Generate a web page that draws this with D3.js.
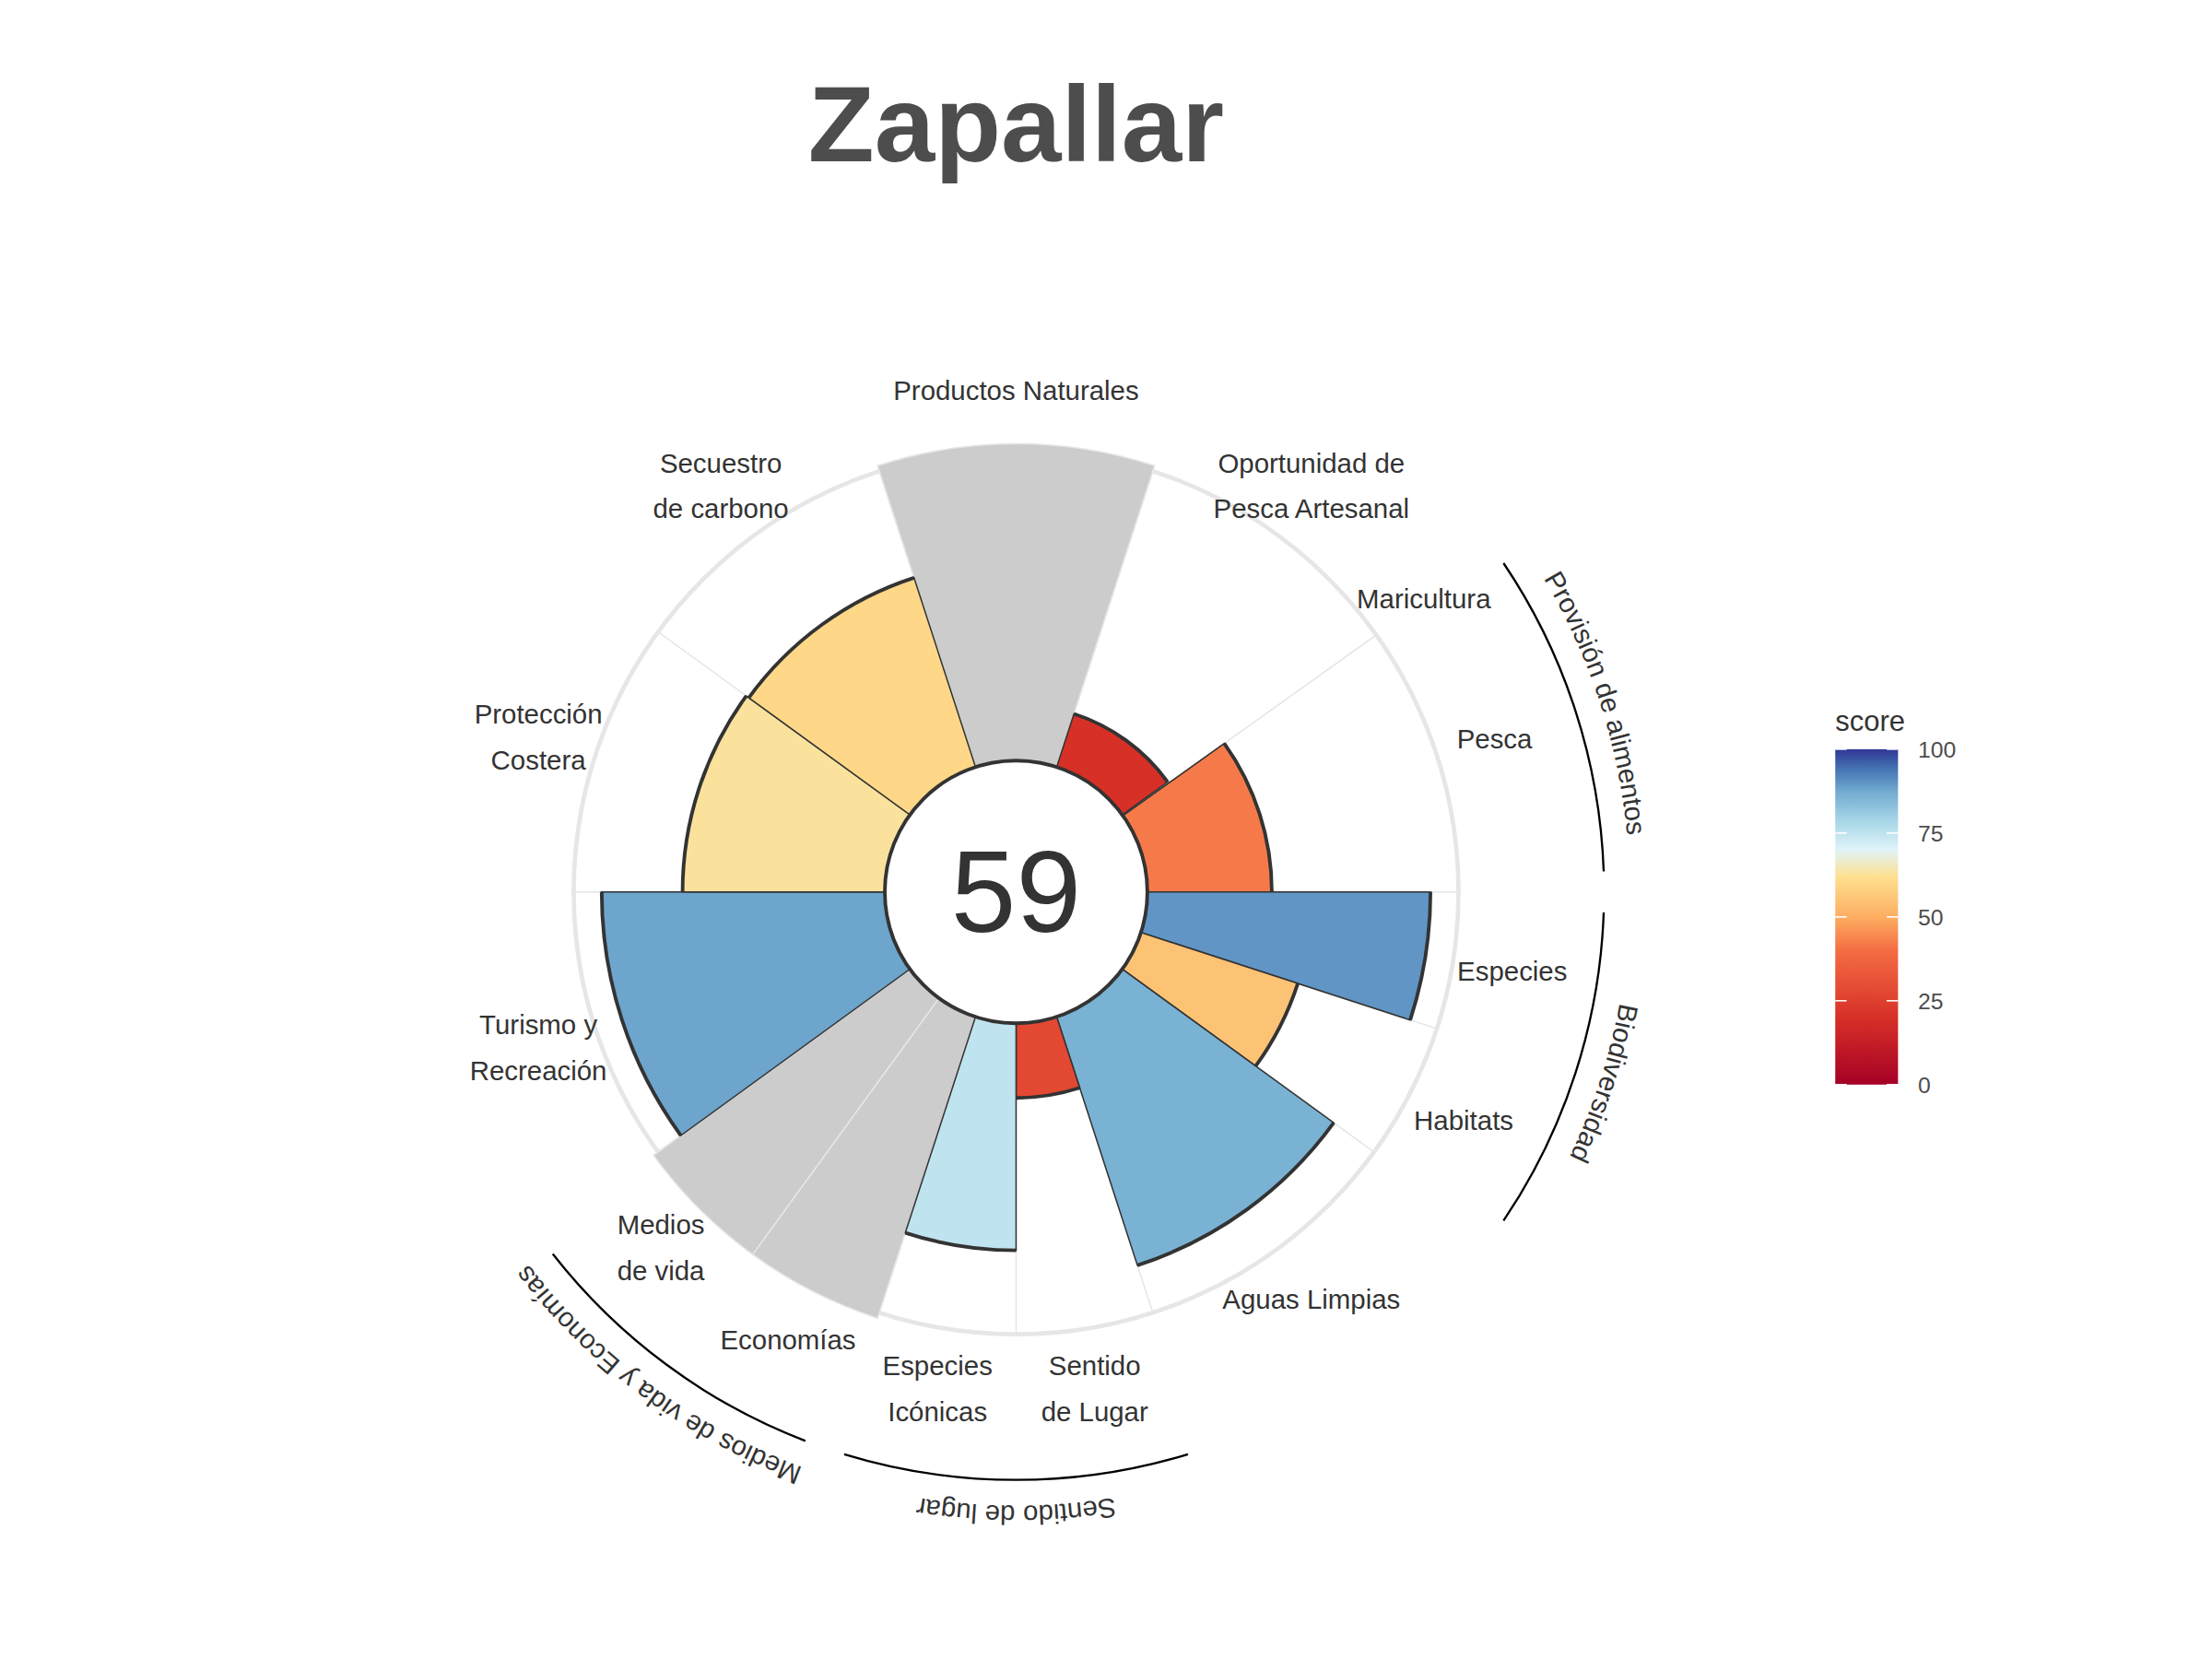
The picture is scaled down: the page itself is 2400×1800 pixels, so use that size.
<!DOCTYPE html>
<html><head><meta charset="utf-8">
<script src="https://cdn.jsdelivr.net/npm/d3@7"></script>
<style>body{margin:0;background:#fff}</style>
</head><body>
<svg id="chart" width="2400" height="1800" viewBox="0 0 1550 1162.5"></svg>
<script>
// goals, clockwise starting at -18 deg
var goals = ["Productos Naturales","Oportunidad de\nPesca Artesanal","Maricultura","Pesca","Especies","Habitats","Aguas Limpias","Sentido\nde Lugar","Especies\nIcónicas","Economías","Medios\nde vida","Turismo y\nRecreación","Protección\nCostera","Secuestro\nde carbono"];
var widths = [36, 36, 0.5, 35.5, 18, 18, 36, 18, 18, 18, 18, 36, 36, 36];
var scores = [null, 18, null, 40, 91, 53, 84, 24, 73, null, null, 91, 65, 64];
var colorScores = [null, 20, null, 42, 90, 55, 86, 28, 75, null, null, 88, 63, 60];
var naFilled = [true, false, false, false, false, false, false, false, false, true, true, false, false, false];
var groups = ["Provisión de alimentos","Biodiversidad","Sentido de lugar","Medios de vida y Economías"];
var groupStart = [56, 92, 163, 201];
var groupEnd = [88, 124, 197, 232];
var overall = 59;
var legendTicks = [0, 25, 50, 75, 100];
var colorStops = [0, 20, 40, 50, 62, 70, 78, 87, 94, 100];
var colorValues = ["#a50026","#d73027","#f46d43","#fdae61","#fee090","#e0f3f8","#abd9e9","#74add1","#4575b4","#313695"];

var svg = d3.select("#chart");
var cx = 712, cy = 625, r0 = 92, r1 = 310;
var g = svg.append("g").attr("transform", "translate(" + cx + "," + cy + ")");
var rad = d3.scaleLinear().domain([0, 100]).range([r0, r1]);
var color = d3.scaleLinear().domain(colorStops).range(colorValues);
var toRad = Math.PI / 180;
var font = "Arial, Liberation Sans, sans-serif";

var start = -18, sectors = [];
goals.forEach(function(n, i){
  sectors.push({name: n, a0: start, a1: start + widths[i], score: scores[i], cs: colorScores[i], na: naFilled[i], w: widths[i]});
  start += widths[i];
});

g.append("circle").attr("r", r1).attr("fill", "#fff").attr("stroke", "#e6e6e6").attr("stroke-width", 3);
g.selectAll(".grid").data(sectors.filter(function(d){ return d.w >= 1; })).enter().append("line")
  .attr("x1", 0).attr("y1", 0)
  .attr("x2", function(d){ return r1 * Math.sin(d.a0 * toRad); })
  .attr("y2", function(d){ return -r1 * Math.cos(d.a0 * toRad); })
  .attr("stroke", "#e6e6e6").attr("stroke-width", 1);

var arc = d3.arc();
g.selectAll(".na").data(sectors.filter(function(d){ return d.na; })).enter().append("path")
  .attr("d", function(d){ return arc({innerRadius: 0, outerRadius: r1 + 4, startAngle: d.a0 * toRad, endAngle: d.a1 * toRad}); })
  .attr("fill", "#cccccc").attr("stroke", "#e6e6e6").attr("stroke-width", 1);

var scored = sectors.filter(function(d){ return d.score != null; });
g.selectAll(".bar").data(scored).enter().append("path")
  .attr("d", function(d){ return arc({innerRadius: 0, outerRadius: rad(d.score), startAngle: d.a0 * toRad, endAngle: d.a1 * toRad}); })
  .attr("fill", function(d){ return color(d.cs); })
  .attr("stroke", "#333").attr("stroke-width", 1);
// thicker outer edges
g.selectAll(".edge").data(scored).enter().append("path")
  .attr("d", function(d){ return arc({innerRadius: rad(d.score), outerRadius: rad(d.score), startAngle: d.a0 * toRad, endAngle: d.a1 * toRad}); })
  .attr("fill", "none").attr("stroke", "#333").attr("stroke-width", 2.5);

g.append("circle").attr("r", r0).attr("fill", "#fff").attr("stroke", "#333").attr("stroke-width", 2.5);
g.append("text").attr("y", 28).attr("text-anchor", "middle")
  .style("font-family", font).style("font-size", "82px").attr("fill", "#333")
  .text(overall);

// goal labels
var lr = 352;
sectors.forEach(function(d){
  var a = (d.a0 + d.a1) / 2 * toRad;
  var x = lr * Math.sin(a), y = -lr * Math.cos(a);
  var lines = d.name.split("\n");
  var t = g.append("text").attr("text-anchor", "middle")
    .style("font-family", font).style("font-size", "19px").attr("fill", "#333");
  lines.forEach(function(l, j){
    t.append("tspan").attr("x", x).attr("y", y + 7 + (j - (lines.length - 1) / 2) * 32).text(l);
  });
});

// group arcs and curved labels
groups.forEach(function(name, i){
  var a0 = groupStart[i] * toRad, a1 = groupEnd[i] * toRad;
  g.append("path").attr("d", arc({innerRadius: 412, outerRadius: 412, startAngle: a0, endAngle: a1}))
    .attr("fill", "none").attr("stroke", "#000").attr("stroke-width", 1.5);
  var tr = 430;
  var p = d3.path();
  p.arc(0, 0, tr, a0 - Math.PI / 2 - 0.3, a1 - Math.PI / 2 + 0.3);
  g.append("path").attr("id", "gp" + i).attr("d", p.toString()).attr("fill", "none");
  g.append("text").style("font-family", font).style("font-size", "19px").attr("fill", "#333")
    .append("textPath").attr("href", "#gp" + i).attr("startOffset", "50%").attr("text-anchor", "middle").text(name);
});

svg.append("text").attr("x", 712).attr("y", 113).attr("text-anchor", "middle")
  .style("font-family", font).style("font-size", "76px").style("font-weight", "bold")
  .attr("fill", "#4d4d4d").text("Zapallar");

// legend
var lx = 1286, ly = 525, lw = 44, lh = 235;
var grad = svg.append("defs").append("linearGradient").attr("id", "lg").attr("x1", 0).attr("y1", 1).attr("x2", 0).attr("y2", 0);
colorStops.forEach(function(v, i){
  grad.append("stop").attr("offset", v + "%").attr("stop-color", colorValues[i]);
});
svg.append("rect").attr("x", lx).attr("y", ly).attr("width", lw).attr("height", lh).attr("fill", "url(#lg)");
var ls = d3.scaleLinear().domain([0, 100]).range([ly + lh, ly]);
legendTicks.forEach(function(v){
  svg.append("line").attr("x1", lx).attr("x2", lx + 8).attr("y1", ls(v)).attr("y2", ls(v)).attr("stroke", "#fff");
  svg.append("line").attr("x1", lx + lw - 8).attr("x2", lx + lw).attr("y1", ls(v)).attr("y2", ls(v)).attr("stroke", "#fff");
  svg.append("text").attr("x", lx + lw + 14).attr("y", ls(v) + 6)
    .style("font-family", font).style("font-size", "16px").attr("fill", "#4d4d4d").text(v);
});
svg.append("text").attr("x", lx).attr("y", ly - 13)
  .style("font-family", font).style("font-size", "20px").attr("fill", "#333").text("score");
</script>
</body></html>
